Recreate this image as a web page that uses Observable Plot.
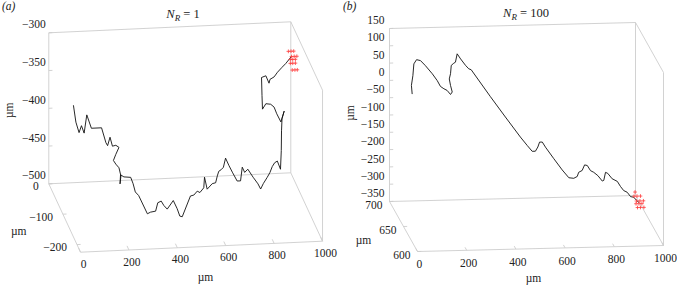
<!DOCTYPE html>
<html><head><meta charset="utf-8">
<script src="https://cdn.jsdelivr.net/npm/d3@7"></script>
<script src="https://cdn.jsdelivr.net/npm/@observablehq/plot@0.6"></script>
<style>
body{margin:0;background:#fff;}
#wrap{display:flex;width:677px;height:287px;overflow:hidden;}
svg text{font-family:"Liberation Serif","Times New Roman",serif;}
</style></head><body><div id="wrap"></div>
<script>
// ---------- data (µm) ----------
// panel (a): N_R = 1
const walkAX = [102,112,125,135,146,157,176,218,236,243,253,263,277,290,277,267,277,290,298,274,276,290,318,296,305,319,320,333,354,363,377,388,402,427,443,454,464,498,512,526,537,553,556,567,588,602,609,615,625,634,643,657,671,691,705,712,722,735,757,777,788,799,815,826,836,846,857,870,917,918,920,929,959,942,931,917,897,883,881,879,897,910,914,931,945,963,979,1000];
const walkAY = [0,0,0,0,0,0,0,0,0,0,0,0,0,0,0,0,0,0,0,-35,-35,-35,-35,-90,-90,-90,-150,-150,-150,-150,-150,-150,-150,-150,-150,-150,-150,-150,-150,-150,-150,-150,-150,-150,-150,-150,-150,-150,-150,-150,-150,-150,-150,-150,-150,-150,-150,-150,-150,-150,-150,-150,-150,-150,-150,-150,-150,-150,-75,-75,-75,-75,0,0,0,0,0,0,0,0,0,0,0,0,0,0,0,0];
const walkAZ = [-398,-420,-434,-425,-435,-411,-429,-429,-449,-453,-442,-454,-453,-456,-465,-473,-478,-483,-494,-490,-478,-481,-482,-468,-479,-484,-484,-482,-481,-470,-468,-474,-479,-468,-479,-489,-490,-463,-462,-457,-459,-453,-439,-455,-448,-447,-438,-432,-430,-427,-415,-425,-434,-446,-446,-428,-435,-431,-442,-451,-458,-451,-443,-437,-429,-424,-422,-433,-439,-413,-397,-387,-432,-421,-412,-408,-407,-414,-396,-372,-370,-380,-375,-372,-366,-360,-355,-347];
const crossAX = [990,1001,1012,1003,1014,1025,998,1008,1019,998,1008,1019,1006,1017,1027];
const crossAY = [0,0,0,0,0,0,0,0,0,0,0,0,0,0,0];
const crossAZ = [-339,-339,-339,-346,-346,-346,-350,-350,-350,-355,-355,-355,-364,-364,-364];
const xTicksA = [0,200,400,600,800,1000];
const yTicksA = [0,-100,-200];
const zTicksA = [-500,-450,-400,-350,-300];

// panel (b): N_R = 100
const walkBX = [75,72,78,82,93,109,129,157,177,190,204,217,231,238,231,226,231,234,244,251,258,272,292,305,315,393,454,515,543,563,576,586,593,604,617,651,685,712,732,746,752,766,776,787,800,813,830,848,854,861,870,888,909,922,935,949,963,976,987,996];
const walkBY = walkBX.map(() => 685);
const walkBZ = [-18,6,34,68,80,77,62,38,18,1,-6,-11,-23,-16,3,22,37,61,67,70,94,79,60,50,47,-32,-92,-151,-176,-193,-193,-181,-167,-167,-182,-216,-249,-272,-274,-269,-257,-252,-236,-238,-253,-258,-268,-284,-282,-259,-262,-278,-286,-301,-313,-318,-331,-333,-342,-348];
const crossBX = [964,960,972,986,970,984,998,968,980,992,974,986,1000];
const crossBY = crossBX.map(() => 670);
const crossBZ = [-296,-308,-308,-308,-322,-322,-322,-330,-330,-330,-341,-341,-341];
const xTicksB = [0,200,400,600,800,1000];
const yTicksB = [600,650,700];
const zTicksB = [-350,-300,-250,-200,-150,-100,-50,0,50,100,150];

// ---------- view settings ----------
const viewA = {
  width: 340, yLim: [0, -225], zLim: [-500, -300],
  ku: 0.5826, kx: 0.01457, kw: 0.4026,
  xRange: [48.3, 290.3], zRange: [183.3, 32.3],
  xl: {dx: 3, dy: 12}, yl: {dx: -10, dy: 3}, zl: {dx: -3, dy: -8},
  xt: {dx: 4, dy: 31}, yt: {dx: -46, dy: 13.5}, zt: {dx: -39, dy: 2},
  title: {x: 183, y: 18, n: "1"}, tag: {x: 2, y: 10, s: "(a)"}
};
const viewB = {
  width: 337, yLim: [700, 600], zLim: [-350, 150],
  ku: 1.1382, kx: 0.01734, kw: 1.4451,
  xRange: [49, 295], zRange: [201, 28],
  xl: {dx: 2, dy: 13}, yl: {dx: -7, dy: 4}, zl: {dx: -5, dy: -8},
  xt: {dx: -7, dy: 30}, yt: {dx: -40, dy: 14}, zt: {dx: -39, dy: -2},
  title: {x: 186, y: 17, n: "100"}, tag: {x: 3, y: 10, s: "(b)"}
};

const FONT = "Liberation Serif";
const fmt = v => String(v).replace("-", "\u2212");
const zip = (a, b, c) => a.map((v, i) => [v, b[i], c[i]]);

function makePanel(V, walk, cross, xTicks, yTicks, zTicks) {
  const yb = V.yLim[0], yf = V.yLim[1], zl = V.zLim[0], zh = V.zLim[1];
  const x0 = xTicks[0], x1 = xTicks[xTicks.length - 1];
  const U = d => { const w = Math.abs(yb - d[1]); return d[0] + V.ku * w; };
  const W = d => { const w = Math.abs(yb - d[1]); return d[2] + V.kx * d[0] - V.kw * w; };
  const dirY = Math.sign(yf - yb);
  const edges = [
    [[x0,yb,zl],[x1,yb,zl]], [[x0,yb,zl],[x0,yf,zl]], [[x0,yf,zl],[x1,yf,zl]], [[x1,yb,zl],[x1,yf,zl]],
    [[x0,yb,zl],[x0,yb,zh]], [[x1,yb,zl],[x1,yb,zh]], [[x1,yf,zl],[x1,yf,zh]],
    [[x0,yb,zh],[x1,yb,zh]], [[x1,yb,zh],[x1,yf,zh]]
  ];
  const tl = 0.06 * Math.abs(yf - yb);
  const ticks = [
    ...xTicks.map(v => [[v,yf,zl],[v,yf - dirY*tl,zl]]),
    ...yTicks.map(v => [[x0,v,zl],[x0+15,v,zl]]),
    ...zTicks.map(v => [[x0,yb,v],[x0+15,yb,v]])
  ];
  const lk = {x1: e => U(e[0]), y1: e => W(e[0]), x2: e => U(e[1]), y2: e => W(e[1]), stroke: "#cdcdcd", strokeWidth: 0.9};
  const tx = {fill: "#222", fontFamily: FONT, fontSize: 11.5};
  const svg = Plot.plot({
    width: V.width, height: 287, margin: 0,
    style: {fontFamily: FONT, fontSize: "11.5px", background: "white", color: "#222"},
    x: {domain: [x0, x1], range: V.xRange, axis: null},
    y: {domain: V.zLim, range: V.zRange, axis: null},
    marks: [
      Plot.link(edges, lk),
      Plot.link(ticks, lk),
      Plot.text(xTicks, {x: v => U([v,yf,zl]), y: v => W([v,yf,zl]), text: fmt, dx: V.xl.dx, dy: V.xl.dy, ...tx}),
      Plot.text(yTicks, {x: v => U([x0,v,zl]), y: v => W([x0,v,zl]), text: fmt, textAnchor: "end", dx: V.yl.dx, dy: V.yl.dy, ...tx}),
      Plot.text(zTicks, {x: v => U([x0,yb,v]), y: v => W([x0,yb,v]), text: fmt, textAnchor: "end", dx: V.zl.dx, dy: V.zl.dy, ...tx}),
      Plot.text([[ (x0+x1)/2, yf, zl ]], {x: U, y: W, text: () => "\u00b5m", dx: V.xt.dx, dy: V.xt.dy, ...tx}),
      Plot.text([[ x0, (yb+yf)/2, zl ]], {x: U, y: W, text: () => "\u00b5m", dx: V.yt.dx, dy: V.yt.dy, ...tx}),
      Plot.text([[ x0, yb, (zl+zh)/2 ]], {x: U, y: W, text: () => "\u00b5m", dx: V.zt.dx, dy: V.zt.dy, rotate: -90, ...tx}),
      Plot.line(walk, {x: U, y: W, stroke: "#111", strokeWidth: 0.9}),
      Plot.dot(cross, {x: U, y: W, symbol: "plus", r: 1.3, stroke: "#ff3b3b", strokeWidth: 0.8})
    ]
  });
  svg.setAttribute("font-family", FONT);
  const s = d3.select(svg);
  const t = s.append("text").attr("x", V.title.x).attr("y", V.title.y).attr("text-anchor", "middle")
    .attr("font-family", FONT).attr("font-size", "12.5px").attr("fill", "#222");
  t.append("tspan").attr("font-style", "italic").text("N");
  t.append("tspan").attr("font-style", "italic").attr("font-size", "9px").attr("dy", 3).text("R");
  t.append("tspan").attr("dy", -3).text(" = " + V.title.n);
  s.append("text").attr("x", V.tag.x).attr("y", V.tag.y).attr("text-anchor", "start").attr("font-style", "italic")
    .attr("font-family", FONT).attr("font-size", "11.5px").attr("fill", "#222").text(V.tag.s);
  return svg;
}

const wrap = document.getElementById("wrap");
wrap.appendChild(makePanel(viewA, zip(walkAX, walkAY, walkAZ), zip(crossAX, crossAY, crossAZ), xTicksA, yTicksA, zTicksA));
wrap.appendChild(makePanel(viewB, zip(walkBX, walkBY, walkBZ), zip(crossBX, crossBY, crossBZ), xTicksB, yTicksB, zTicksB));
</script></body></html>
